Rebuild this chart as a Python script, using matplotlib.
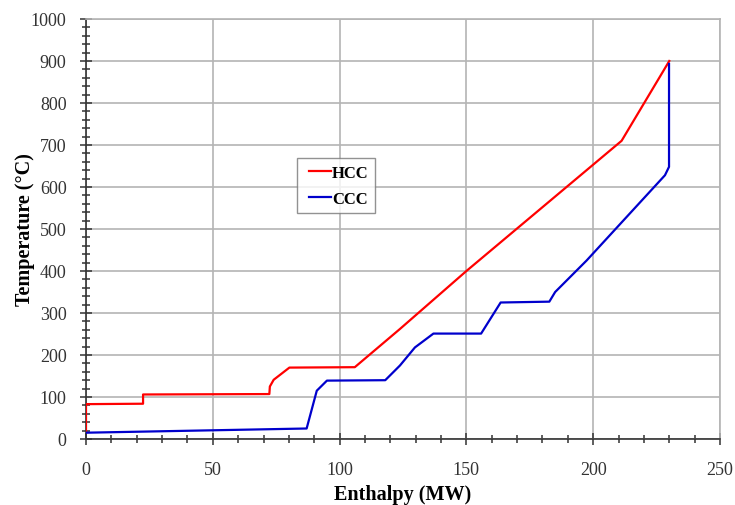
import matplotlib
matplotlib.use("Agg")
import numpy as np
import matplotlib.pyplot as plt
from matplotlib.ticker import MultipleLocator
from matplotlib.legend_handler import HandlerLine2D
from matplotlib.lines import Line2D

plt.rcParams['font.family'] = ['Liberation Serif', 'DejaVu Serif']

hcc_h = [0, 0, 22.5, 22.5, 72.3, 72.5, 74.0, 80.2, 106.0, 123.8, 150.0, 211.2, 230.0]
hcc_t = [17, 83, 84, 106, 107, 125, 141, 170, 171, 262, 400, 710, 900]

ccc_h = [0, 87.0, 91.0, 95.0, 118.0, 123.8, 129.7, 137.0, 155.8, 163.5, 182.7, 185.0, 197.4, 228.3, 229.9, 229.9]
ccc_t = [15, 25, 115, 139, 140, 175, 218, 251, 251, 325, 327, 350, 425, 628, 648, 893]

x_ticks = [0, 50, 100, 150, 200, 250]
y_ticks = [0, 100, 200, 300, 400, 500, 600, 700, 800, 900, 1000]


class ShortLine(HandlerLine2D):
    def get_xdata(self, legend, xdescent, ydescent, width, height, fontsize):
        xd = np.array([-xdescent + width * 0.2, -xdescent + width])
        return xd, xd


fig = plt.figure(figsize=(7.35, 5.06), dpi=100)
ax = fig.add_axes([86/735, 1-440/506, (720-86)/735, (440-20)/506])

ax.plot(hcc_h, hcc_t, color='#ff0000', lw=1.6, label='HCC', zorder=3)
ax.plot(ccc_h, ccc_t, color='#0000cc', lw=1.6, label='CCC', zorder=3)

ax.set_xlim(0, 250)
ax.set_ylim(0, 1000)
ax.set_xticks(x_ticks)
ax.set_yticks(y_ticks)
ax.xaxis.set_minor_locator(MultipleLocator(10))
ax.yaxis.set_minor_locator(MultipleLocator(20))
ax.grid(True, which='major', color='#b4b4b4', lw=1.2)
ax.set_axisbelow(True)

for s in ['top', 'right']:
    ax.spines[s].set_color('#b4b4b4')
    ax.spines[s].set_linewidth(1.2)
for s in ['left', 'bottom']:
    ax.spines[s].set_color('#333333')
    ax.spines[s].set_linewidth(1.2)

ax.tick_params(axis='both', which='major', direction='inout', length=8, width=1.1,
               color='#333333', labelsize=13, labelcolor='#333333')
ax.tick_params(axis='both', which='minor', direction='inout', length=6, width=1.1,
               color='#333333')
ax.tick_params(axis='x', which='major', pad=12)
ax.tick_params(axis='y', which='major', pad=10)
ax.tick_params(top=False, right=False, which='both')

ax.set_xlabel('Enthalpy (MW)', fontsize=14.5, fontweight='bold', labelpad=4)
ax.set_ylabel('Temperature (\u00b0C)', fontsize=14.5, fontweight='bold')
ax.yaxis.set_label_coords((35 - 86) / 634, 0.5)

leg = ax.legend(loc='upper left', bbox_to_anchor=((297-86)/634, (440-159)/420),
                borderaxespad=0, handler_map={Line2D: ShortLine()},
                prop={'size': 12, 'weight': 'bold'}, frameon=True, fancybox=False,
                handlelength=1.65, handletextpad=0.05, borderpad=0.4, labelspacing=0.6)
leg.get_frame().set_edgecolor('#777777')
leg.get_frame().set_linewidth(1.0)

fig.savefig('out.png', dpi=100)
